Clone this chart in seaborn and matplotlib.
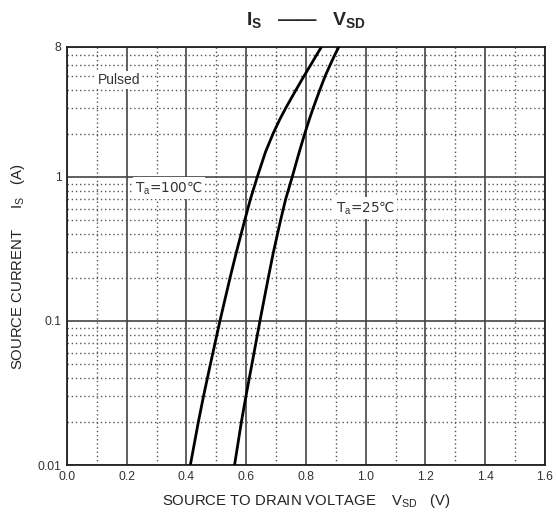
import pandas as pd
import matplotlib
matplotlib.use('Agg')
import matplotlib.pyplot as plt
import matplotlib.ticker as mticker
import seaborn as sns

# source current levels (A) and the matching forward voltage (V) for each curve
current = [0.01, 0.02, 0.03, 0.05, 0.1, 0.2, 0.3, 0.5, 0.7, 1, 1.5, 2, 2.5, 3, 4, 5, 6, 7, 8]
vsd_100c = [0.413, 0.440, 0.457, 0.480, 0.512, 0.546, 0.567, 0.595, 0.614, 0.637, 0.665,
            0.690, 0.712, 0.732, 0.766, 0.793, 0.816, 0.835, 0.852]
vsd_25c = [0.561, 0.584, 0.599, 0.619, 0.646, 0.674, 0.691, 0.715, 0.732, 0.754, 0.778,
           0.796, 0.811, 0.824, 0.846, 0.864, 0.881, 0.896, 0.910]

x_ticks = [0.0, 0.2, 0.4, 0.6, 0.8, 1.0, 1.2, 1.4, 1.6]
y_ticks = [0.01, 0.1, 1, 8]
y_labels = ['0.01', '0.1', '1', '8']

df = pd.concat([
    pd.DataFrame({'V': vsd_100c, 'I': current, 'T': '100C'}),
    pd.DataFrame({'V': vsd_25c, 'I': current, 'T': '25C'}),
])

sns.set_style('white')
plt.rcParams['font.family'] = ['Liberation Sans', 'DejaVu Sans']
plt.rcParams['mathtext.fontset'] = 'custom'
plt.rcParams['mathtext.rm'] = 'Liberation Sans'
plt.rcParams['mathtext.bf'] = 'Liberation Sans:bold'

fig = plt.figure(figsize=(5.56, 5.16), dpi=100)
ax = fig.add_axes([0.1205, 0.0988, 0.8595, 0.8103])

sns.lineplot(data=df, x='V', y='I', hue='T', palette=['black', 'black'],
             legend=False, linewidth=2.0, sort=False, estimator=None, ax=ax, zorder=5)

ax.set_yscale('log')
ax.set_xlim(0, 1.6)
ax.set_ylim(0.01, 8)
ax.set_xticks(x_ticks)
ax.set_xticklabels([f'{v:.1f}' for v in x_ticks])
ax.xaxis.set_minor_locator(mticker.MultipleLocator(0.1))
ax.set_yticks(y_ticks)
ax.set_yticklabels(y_labels)
ax.yaxis.set_minor_locator(mticker.LogLocator(base=10, subs=[2, 3, 4, 5, 6, 7, 8, 9]))
ax.yaxis.set_minor_formatter(mticker.NullFormatter())
ax.tick_params(which='both', length=0, labelsize=8.75, colors='#333333', pad=4)

ax.grid(which='major', color='#444444', linewidth=1.2, linestyle='-')
ax.grid(which='minor', color='#555555', linewidth=1.0, linestyle=(0, (1, 2)))
ax.set_axisbelow(True)
for s in ax.spines.values():
    s.set_color('#222222')
    s.set_linewidth(1.3)

bbox = dict(facecolor='white', edgecolor='none', pad=1.5)
ax.text(0.102, 4.7, 'Pulsed', fontsize=10, color='#333333', va='center', bbox=bbox, zorder=4)
ax.text(0.228, 0.84, r'T$_{\mathrm{a}}$=100℃', fontsize=9.8, color='#333333', va='center',
        family=['DejaVu Sans'], bbox=bbox, zorder=4)
ax.text(0.9, 0.61, r'T$_{\mathrm{a}}$=25℃', fontsize=9.8, color='#333333', va='center',
        family=['DejaVu Sans'], bbox=bbox, zorder=4)

ax.set_title(r'$\mathbf{I_{S}}$   ——   $\mathbf{V_{SD}}$', fontsize=14, fontweight='bold', pad=16)
ax.set_xlabel(r'SOURCE TO DRAIN VOLTAGE    V$_{\mathrm{SD}}$   (V)', fontsize=10.75, color='#222222')
ax.set_ylabel(r'SOURCE CURRENT     I$_{\mathrm{S}}$   (A)', fontsize=10.75, color='#222222')
ax.xaxis.set_label_coords(0.5, -0.065)
ax.yaxis.set_label_coords(-0.084, 0.474)

fig.savefig('out.png', dpi=100)
